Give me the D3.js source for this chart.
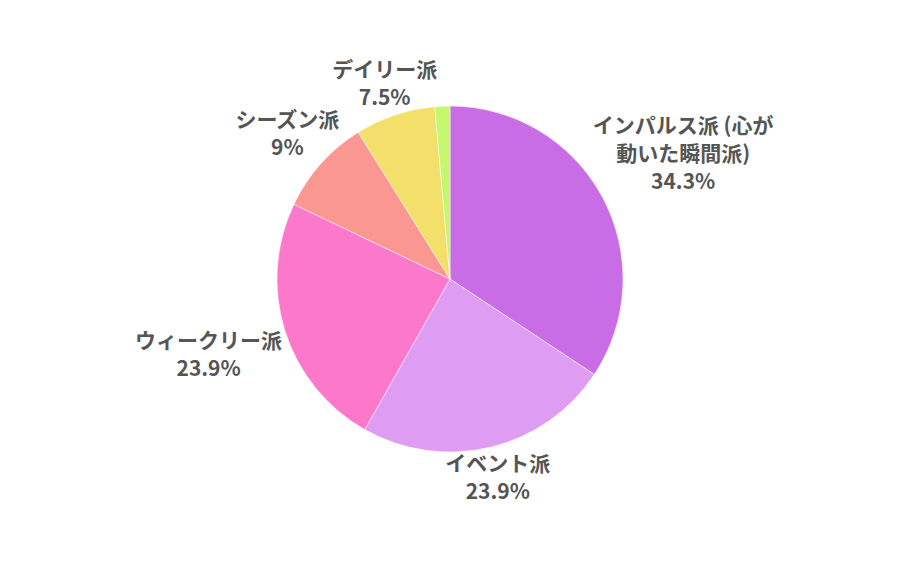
<!DOCTYPE html>
<html>
<head>
<meta charset="utf-8">
<script src="https://cdn.jsdelivr.net/npm/d3@7"></script>
<style>
  html, body { margin: 0; padding: 0; background: #fff; }
  svg { display: block; }
</style>
</head>
<body>
<div id="chart-area"></div>
<script>
const categories = ["インパルス派 (心が動いた瞬間派)", "イベント派", "ウィークリー派", "シーズン派", "デイリー派", "その他"];
const shares = [34.3, 23.9, 23.9, 9, 7.5, 1.4];
const sliceColors = ["#c86de6", "#de9df3", "#fb78cb", "#fb9791", "#f3e06a", "#c3f86f"];

const width = 900, height = 562;
const cx = 450, cy = 279, radius = 173;
const labelGap = 3, fontSize = 21, lineHeight = 28, maxLineWidth = 200;

const svg = d3.select("#chart-area")
    .append("svg")
    .attr("width", width)
    .attr("height", height);

const chart = svg.append("g")
    .attr("transform", `translate(${cx},${cy})`);

const slices = categories.map((name, i) => ({ name, value: shares[i], color: sliceColors[i] }));

const pie = d3.pie().sort(null).value(d => d.value);
const arc = d3.arc().innerRadius(0).outerRadius(radius);
const arcs = pie(slices);

chart.selectAll("path.slice")
    .data(arcs)
    .enter().append("path")
    .attr("class", "slice")
    .attr("d", arc)
    .attr("fill", d => d.data.color)
    .attr("stroke", "#fff")
    .attr("stroke-width", 0.5);

// split a label into lines no wider than maxLineWidth
const measure = svg.append("text")
    .attr("font-family", "'Noto Sans CJK JP', 'Noto Sans', sans-serif")
    .attr("font-weight", "bold")
    .attr("font-size", fontSize);

function wrap(str) {
    const lines = [];
    let line = "";
    for (const ch of str) {
        measure.text(line + ch);
        if (line && measure.node().getComputedTextLength() > maxLineWidth) {
            lines.push(line);
            line = ch;
        } else {
            line += ch;
        }
    }
    if (line) lines.push(line);
    return lines;
}

const labelLayer = chart.append("g");

arcs.filter(d => d.data.value >= 2).forEach(d => {
    const lines = wrap(d.data.name).concat([`${d.data.value}%`]);
    const g = labelLayer.append("g");
    const txt = g.append("text")
        .attr("text-anchor", "middle")
        .attr("font-family", "'Noto Sans CJK JP', 'Noto Sans', sans-serif")
        .attr("font-weight", "bold")
        .attr("font-size", fontSize)
        .attr("fill", "#555555");
    lines.forEach((l, i) => {
        txt.append("tspan")
            .attr("x", 0)
            .attr("y", (i - (lines.length - 1) / 2) * lineHeight)
            .attr("dy", "0.35em")
            .text(l);
    });
    const box = txt.node().getBBox();
    const a = box.width / 2, b = lines.length * lineHeight / 2;
    const mid = (d.startAngle + d.endAngle) / 2;
    const ux = Math.sin(mid), uy = -Math.cos(mid);
    // push the box out along the ray until its edge sits just outside the pie
    const t = Math.min(Math.abs(ux) > 1e-6 ? a / Math.abs(ux) : Infinity,
                       Math.abs(uy) > 1e-6 ? b / Math.abs(uy) : Infinity);
    const dist = radius + labelGap + t;
    g.attr("transform", `translate(${ux * dist},${uy * dist})`);
});

measure.remove();
</script>
</body>
</html>
